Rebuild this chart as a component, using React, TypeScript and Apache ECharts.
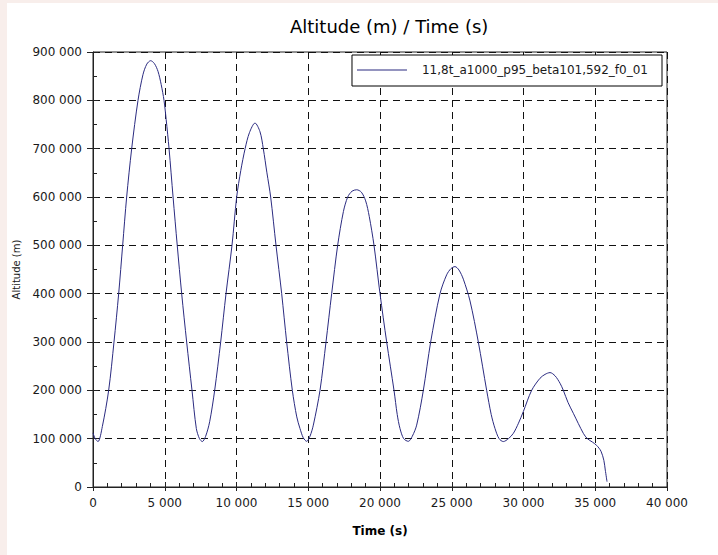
import React, { useEffect, useRef } from "react";
import * as echarts from "echarts";

const chartTitle = "Altitude (m) / Time (s)";
const seriesName = "11,8t_a1000_p95_beta101,592_f0_01";
const xAxisName = "Time (s)";
const yAxisName = "Altitude (m)";

// time (s)
const times = [
  0, 150, 350, 650, 1092, 1463, 1789, 2067, 2346, 2695, 3136, 3480, 3750, 4019, 4280, 4530, 4750,
  4948, 5100, 5300, 5580, 5870, 6180, 6527, 6899, 7201, 7420, 7619, 7850, 8130, 8479, 8897, 9269,
  9686, 10012, 10300, 10600, 10900, 11289, 11638, 11868, 12120, 12381, 12753, 13148, 13496, 13891,
  14200, 14425, 14650, 14890, 15120, 15354, 15819, 16237, 16632, 17050, 17450, 17750, 18050, 18374,
  18700, 19000, 19250, 19582, 20000, 20465, 20976, 21200, 21394, 21650, 21975, 22250, 22555, 23020,
  23531, 24181, 24646, 24950, 25226, 25500, 25807, 26272, 26852, 27433, 27750, 28014, 28300, 28595,
  28950, 29292, 29650, 29988, 30569, 31150, 31500, 31847, 32200, 32544, 32776, 33100, 33473, 34170,
  34450, 34800, 35100, 35400, 35600, 35700, 35820,
];
// altitude (m)
const altitudes = [
  112000, 100000, 94000, 125000, 200000, 300000, 400000, 500000, 600000, 700000, 800000, 853000,
  875000, 882000, 876000, 860000, 833000, 800000, 760000, 700000, 600000, 500000, 400000, 300000,
  200000, 121000, 100000, 94000, 105000, 135000, 200000, 300000, 400000, 500000, 600000, 655000,
  700000, 733000, 753000, 735000, 700000, 650000, 600000, 500000, 400000, 300000, 200000, 145000,
  121000, 102000, 94500, 105000, 128000, 200000, 300000, 400000, 500000, 570000, 600000, 612000,
  615000, 610000, 592000, 560000, 500000, 400000, 300000, 200000, 150000, 121000, 100000, 94500,
  105000, 128000, 200000, 300000, 400000, 439000, 452000, 456000, 449000, 430000, 385000, 300000,
  200000, 150000, 121000, 100000, 94000, 100000, 111000, 132000, 156000, 200000, 225000, 233000,
  236700, 230000, 214700, 200000, 175000, 152500, 111000, 100000, 93000, 86000, 74000, 55000, 35000,
  11000,
];

const xTicks = { min: 0, max: 40000, interval: 5000 };
const yTicks = { min: 0, max: 900000, interval: 100000 };

const fmt = (v: number) => String(v).replace(/\B(?=(\d{3})+(?!\d))/g, " ");

const FONT = "DejaVu Sans";
const INK = "#1a1a1a";
const LINE = "#2b2b80";

export default function App() {
  const ref = useRef<HTMLDivElement>(null);
  useEffect(() => {
    document.body.style.margin = "0";
    const chart = echarts.init(ref.current!, null, { renderer: "svg" });
    const data = times.map((t, i) => [t, altitudes[i]]);
    const gridLine = { show: true, lineStyle: { color: "#111", width: 1, type: [7, 5] as any } };
    chart.setOption({
      animation: false,
      backgroundColor: "#ffffff",
      title: {
        text: chartTitle,
        left: 290,
        top: 17,
        padding: 0,
        textStyle: { fontFamily: FONT, fontSize: 18, fontWeight: "normal", color: "#000" },
      },
      legend: {
        right: 56,
        top: 55,
        orient: "horizontal",
        backgroundColor: "#fff",
        borderColor: "#000",
        borderWidth: 1,
        borderRadius: 0,
        padding: [9, 14, 10, 5],
        itemWidth: 50,
        itemHeight: 1,
        textStyle: { fontFamily: FONT, fontSize: 12, color: INK, padding: [0, 0, 0, 10] },
        data: [{ name: seriesName, icon: "rect", itemStyle: { color: LINE } }],
      },
      grid: {
        left: 93,
        right: 51,
        top: 52,
        bottom: 68,
        show: true,
        borderColor: "#222",
        borderWidth: 1,
        backgroundColor: "transparent",
        containLabel: false,
        outerBoundsMode: "none",
      },
      graphic: [
        { type: "rect", left: 0, top: 0, shape: { width: 7, height: 555 }, style: { fill: "#f8eeeb" }, silent: true },
        { type: "rect", left: 0, top: 0, shape: { width: 718, height: 3 }, style: { fill: "#f8eeeb" }, silent: true },
      ],
      xAxis: [
        {
          type: "value",
          ...xTicks,
          position: "bottom",
          name: xAxisName,
          nameLocation: "middle",
          nameGap: 38,
          nameTextStyle: { fontFamily: FONT, fontSize: 12, fontWeight: "bold", color: "#000" },
          axisLine: { show: true, onZero: false, lineStyle: { color: "#222", width: 1 } },
          axisTick: { show: true, inside: false, length: 4, lineStyle: { color: "#222" } },
          axisLabel: { formatter: fmt, fontFamily: FONT, fontSize: 12, color: INK, margin: 10 },
          splitLine: gridLine,
        },
        {
          type: "value",
          ...xTicks,
          position: "bottom",
          axisLine: { show: false, onZero: false },
          axisTick: { show: true, inside: true, length: 5, lineStyle: { color: "#222" } },
          minorTick: { show: true, splitNumber: 5, length: 4, lineStyle: { color: "#222" } },
          axisLabel: { show: false },
          splitLine: { show: false },
        },
      ],
      yAxis: [
        {
          type: "value",
          ...yTicks,
          position: "left",
          name: yAxisName,
          nameLocation: "middle",
          nameGap: 67,
          nameRotate: 90,
          nameTextStyle: { fontFamily: FONT, fontSize: 10, color: INK },
          axisLine: { show: true, onZero: false, lineStyle: { color: "#222", width: 1 } },
          axisTick: { show: true, inside: false, length: 6, lineStyle: { color: "#222" } },
          axisLabel: { formatter: fmt, fontFamily: FONT, fontSize: 12, color: INK, margin: 11 },
          splitLine: gridLine,
        },
        {
          type: "value",
          ...yTicks,
          position: "left",
          axisLine: { show: false, onZero: false },
          axisTick: { show: true, inside: true, length: 5, lineStyle: { color: "#222" } },
          minorTick: { show: true, splitNumber: 2, length: 4, lineStyle: { color: "#222" } },
          axisLabel: { show: false },
          splitLine: { show: false },
        },
      ],
      series: [
        {
          name: seriesName,
          type: "line",
          xAxisIndex: 0,
          yAxisIndex: 0,
          data,
          smooth: 0.3,
          symbol: "none",
          showSymbol: false,
          lineStyle: { color: LINE, width: 1 },
          itemStyle: { color: LINE },
        },
      ],
    });
    return () => chart.dispose();
  }, []);
  return <div ref={ref} style={{ width: 718, height: 555 }} />;
}
